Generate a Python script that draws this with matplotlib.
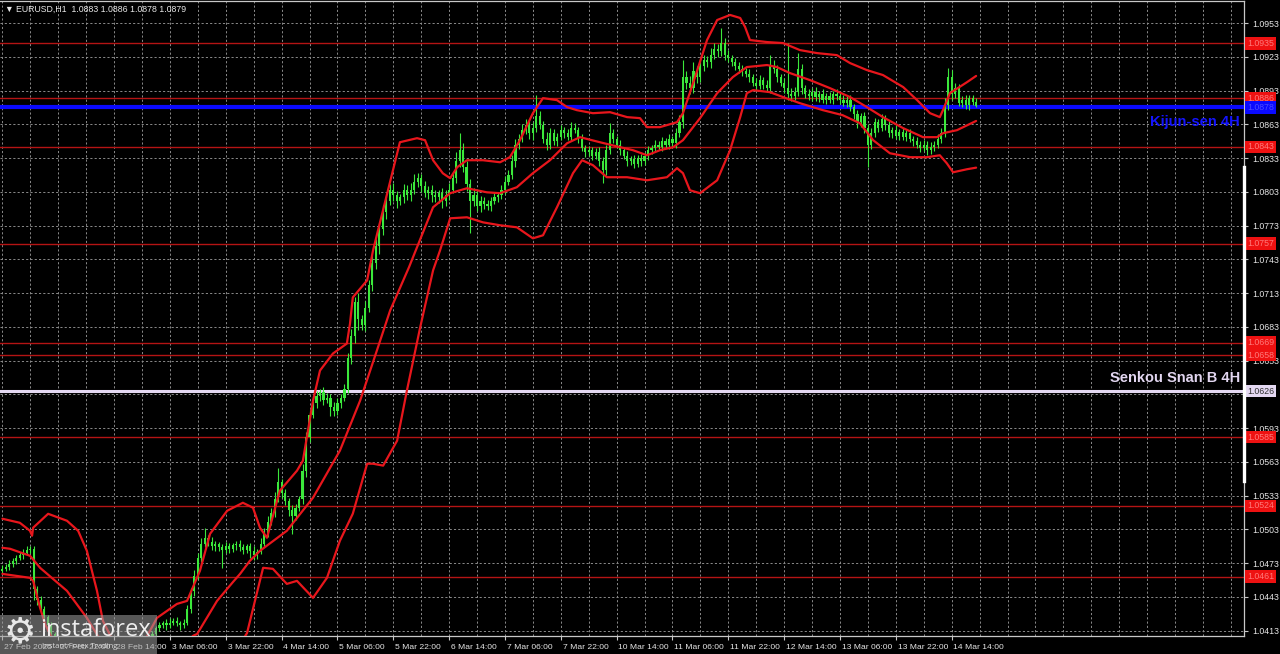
import matplotlib
matplotlib.use("Agg")
import matplotlib.pyplot as plt
import matplotlib.transforms as mtransforms
from matplotlib.patches import Rectangle

# ------------------------------------------------------------------ data
title_text = "\u25BC EURUSD,H1  1.0883 1.0886 1.0878 1.0879"

first_open = 466  # pips above 1.0000
close_pips = [
    468, 470, 472, 475, 478, 480, 482, 485, 486, 450, 440, 432, 425, 418, 410, 405, 400, 402, 400, 398,
    395, 393, 395, 398, 400, 402, 405, 403, 400, 395, 390, 385, 380, 375, 370, 368, 365, 370, 372, 375,
    378, 376, 405, 410, 415, 418, 420, 418, 420, 422, 420, 418, 420, 432, 448, 462, 478, 490, 495, 492,
    488, 490, 487, 485, 488, 486, 489, 490, 487, 485, 488, 484, 480, 483, 490, 500, 510, 518, 530, 545,
    535, 528, 520, 515, 522, 530, 555, 585, 605, 615, 622, 625, 618, 620, 612, 608, 615, 620, 628, 655,
    675, 705, 690, 685, 700, 720, 740, 755, 770, 785, 795, 805, 800, 795, 798, 805, 800, 805, 812, 815,
    808, 802, 805, 800, 798, 802, 795, 800, 805, 815, 830, 840, 825, 810, 795, 800, 790, 795, 792, 790,
    795, 798, 800, 805, 812, 818, 830, 845, 850, 858, 862, 855, 860, 870, 862, 850, 845, 855, 848, 852,
    858, 855, 852, 860, 858, 850, 842, 838, 840, 835, 838, 830, 822, 840, 855, 850, 845, 840, 835, 830,
    832, 828, 833, 830, 835, 840, 842, 845, 843, 848, 845, 850, 846, 855, 865, 905, 900, 895, 910, 905,
    915, 920, 918, 925, 930, 928, 935, 925, 922, 918, 915, 912, 910, 908, 905, 900, 897, 902, 898, 895,
    915, 912, 905, 900, 895, 890, 888, 892, 912, 895, 890, 888, 892, 887, 890, 885, 888, 885, 890, 888,
    885, 882, 885, 878, 872, 865, 870, 860, 845, 855, 865, 860, 868, 862, 855, 858, 853, 856, 852, 855,
    850, 848, 845, 842, 845, 840, 843, 845, 850, 855, 880, 905, 890, 895, 882, 885, 880, 886, 883, 879,
]
upper_wick = [
    3, 2, 4, 3, 2, 3, 4, 3, 2, 2, 3, 4, 3, 2, 3, 2, 3, 2, 3, 2,
    2, 3, 2, 3, 2, 3, 2, 3, 2, 3, 2, 3, 2, 3, 2, 3, 2, 3, 2, 3,
    2, 3, 4, 3, 2, 3, 2, 3, 4, 2, 3, 2, 3, 4, 3, 5, 4, 5, 9, 3,
    4, 3, 2, 3, 4, 3, 2, 3, 4, 3, 2, 3, 4, 3, 5, 4, 5, 4, 6, 13,
    3, 4, 3, 5, 4, 3, 6, 5, 4, 5, 4, 3, 5, 4, 3, 4, 5, 3, 4, 5,
    6, 5, 8, 4, 6, 5, 7, 6, 5, 6, 4, 5, 6, 4, 3, 5, 4, 6, 7, 5,
    4, 5, 3, 4, 5, 3, 4, 5, 6, 5, 8, 15, 6, 5, 4, 6, 5, 4, 3, 4,
    3, 4, 3, 4, 5, 4, 6, 5, 4, 5, 6, 4, 5, 19, 5, 4, 6, 5, 4, 3,
    4, 3, 4, 5, 4, 3, 4, 3, 4, 3, 4, 5, 4, 5, 9, 4, 3, 4, 3, 4,
    3, 4, 3, 4, 3, 4, 3, 4, 3, 4, 3, 4, 3, 5, 6, 15, 5, 6, 8, 5,
    6, 5, 4, 6, 5, 4, 14, 5, 4, 3, 4, 3, 4, 3, 4, 3, 4, 5, 3, 4,
    10, 5, 4, 3, 4, 40, 5, 4, 14, 5, 3, 4, 3, 4, 3, 4, 3, 4, 3, 4,
    3, 4, 3, 4, 3, 4, 3, 4, 3, 5, 4, 3, 4, 3, 4, 3, 4, 3, 4, 3,
    4, 3, 4, 3, 4, 3, 4, 3, 4, 5, 6, 8, 6, 5, 4, 3, 4, 3, 3, 3,
]
lower_wick = [
    3, 2, 3, 2, 3, 2, 3, 2, 3, 10, 4, 3, 4, 3, 2, 3, 4, 3, 2, 3,
    3, 2, 3, 2, 3, 2, 3, 2, 3, 2, 3, 2, 3, 2, 3, 2, 3, 2, 3, 2,
    3, 2, 3, 4, 3, 2, 3, 4, 3, 2, 3, 4, 3, 2, 3, 4, 3, 4, 3, 4,
    3, 4, 3, 16, 3, 4, 3, 4, 3, 4, 3, 6, 4, 3, 2, 3, 4, 3, 4, 3,
    4, 3, 5, 16, 4, 3, 4, 5, 4, 3, 4, 5, 4, 3, 8, 4, 3, 4, 3, 4,
    5, 6, 10, 5, 6, 4, 5, 6, 7, 5, 6, 4, 5, 6, 4, 5, 4, 5, 4, 5,
    5, 4, 5, 6, 4, 5, 6, 5, 4, 3, 4, 5, 4, 6, 29, 5, 4, 5, 4, 3,
    4, 3, 4, 3, 4, 3, 4, 5, 4, 3, 4, 5, 6, 4, 3, 4, 5, 4, 3, 4,
    3, 4, 3, 4, 3, 4, 3, 4, 3, 4, 3, 4, 11, 4, 3, 4, 3, 4, 3, 4,
    3, 4, 3, 4, 3, 4, 3, 4, 3, 4, 3, 4, 3, 4, 3, 5, 6, 5, 4, 5,
    4, 5, 4, 5, 4, 5, 4, 5, 4, 3, 4, 3, 4, 3, 4, 3, 4, 3, 4, 3,
    4, 3, 4, 3, 4, 5, 4, 3, 4, 5, 4, 3, 4, 3, 4, 3, 4, 3, 4, 3,
    4, 3, 4, 3, 4, 5, 4, 5, 20, 4, 3, 4, 3, 4, 3, 4, 3, 4, 3, 4,
    3, 4, 3, 4, 3, 4, 3, 4, 3, 4, 3, 4, 5, 4, 3, 4, 3, 4, 3, 1,
]

# Bollinger-type band readings (bar index, price)
band_upper_i = [0, 5.0, 7.9, 8.5, 8.8, 13.1, 18.5, 21.7, 24.2, 27.1, 28.8, 32, 36, 40, 44.3, 50.0, 52.9,
                56.6, 59.5, 64.4, 68.9, 71.8, 73.8, 75.8, 79.5, 84.4, 86.1, 89.0, 91.0, 94.7, 98.7, 99.6,
                100.4, 104.5, 106.2, 113.9, 118.8, 121.1, 123.4, 126.2, 128.3, 130.3, 133.1, 137.7, 142.6,
                145.4, 148.3, 152.0, 154.9, 158.9, 161.8, 164.6, 169.2, 174.1, 179.0, 182.7, 184.7, 188.4,
                193.3, 195.0, 197.9, 201.9, 204.8, 208.5, 211.4, 212.8, 214.2, 219.1, 223.7, 228.5, 233.4,
                239.1, 242.9, 247.7, 252.3, 258.1, 262.1, 265.8, 268.6, 269.5, 271.5, 276.4, 279]
band_upper_p = [1.05125, 1.05089, 1.05018, 1.04974, 1.05045, 1.05169, 1.05107, 1.05018, 1.04840, 1.04484,
                1.04217, 1.04020, 1.03950, 1.04000, 1.04244, 1.04368, 1.04395, 1.04662, 1.04991, 1.05196,
                1.05267, 1.05223, 1.05045, 1.04956, 1.05374, 1.05552, 1.05641, 1.06175, 1.06442, 1.06593,
                1.06682, 1.06860, 1.07092, 1.07243, 1.07510, 1.08471, 1.08507, 1.08489, 1.08311, 1.08195,
                1.08151, 1.08249, 1.08311, 1.08311, 1.08293, 1.08338, 1.08489, 1.08729, 1.08863, 1.08845,
                1.08783, 1.08756, 1.08729, 1.08738, 1.08694, 1.08685, 1.08605, 1.08605, 1.08649, 1.08729,
                1.08996, 1.09379, 1.09557, 1.09602, 1.09575, 1.09495, 1.09379, 1.09361, 1.09352, 1.09290,
                1.09263, 1.09245, 1.09174, 1.09112, 1.09068, 1.08961, 1.08845, 1.08729, 1.08694, 1.08756,
                1.08907, 1.09005, 1.09060]

band_mid_i = [0, 2.2, 7.9, 10.8, 18.5, 24.2, 28, 35, 45, 50, 54.6, 55.8, 61.5, 66.1, 68.1, 70.9, 73.8,
              81.5, 89.0, 96.7, 102.5, 107.3, 111.1, 116.5, 123.4, 128.3, 133.1, 138.8, 142.6, 147.4,
              152.0, 156.9, 161.8, 165.5, 171.2, 177.0, 180.7, 184.7, 188.4, 192.2, 195.0, 199.9, 204.8,
              209.3, 213.3, 219.1, 221.9, 225.7, 231.4, 237.1, 242.9, 247.7, 252.3, 258.1, 263.8, 267.8,
              269.5, 273.5, 279]
band_mid_p = [1.04867, 1.04858, 1.04796, 1.04689, 1.04484, 1.04244, 1.04050, 1.03900, 1.03850, 1.03920,
              1.04084, 1.04101, 1.04395, 1.04564, 1.04635, 1.04751, 1.04840, 1.05018, 1.05312, 1.05730,
              1.06175, 1.06620, 1.06976, 1.07360, 1.07893, 1.08018, 1.08062, 1.08026, 1.08018, 1.08071,
              1.08196, 1.08311, 1.08462, 1.08516, 1.08471, 1.08427, 1.08400, 1.08355, 1.08400, 1.08427,
              1.08489, 1.08685, 1.08907, 1.09050, 1.09139, 1.09157, 1.09139, 1.09085, 1.09023, 1.08952,
              1.08872, 1.08783, 1.08694, 1.08596, 1.08516, 1.08516, 1.08551, 1.08578, 1.08660]

band_low_i = [0, 7.9, 8.8, 10.8, 12.2, 16, 25, 40, 55, 63, 70.1, 74.7, 77.5, 81.5, 84.4, 89.0, 93.0,
              96.7, 100.4, 104.5, 106.2, 109.1, 113.1, 115.9, 119.7, 123.4, 125.4, 128.3, 133.1, 137.7,
              142.6, 147.4, 152.0, 154.9, 158.9, 163.5, 166.1, 169.2, 173.2, 179.0, 184.7, 190.4, 193.3,
              195.0, 197.0, 199.9, 204.8, 208.5, 211.4, 213.3, 215.1, 219.9, 223.7, 228.5, 235.1, 240.7,
              245.7, 249.5, 254.3, 260.1, 264.9, 268.6, 270.6, 272.4, 276.4, 279]
band_low_p = [1.04635, 1.04600, 1.04573, 1.04333, 1.04191, 1.03950, 1.03550, 1.03450, 1.03500, 1.03750,
              1.04110, 1.04689, 1.04680, 1.04546, 1.04573, 1.04422, 1.04600, 1.04929, 1.05170, 1.05614,
              1.05614, 1.05597, 1.05819, 1.06264, 1.06825, 1.07332, 1.07510, 1.07795, 1.07804, 1.07759,
              1.07733, 1.07715, 1.07617, 1.07644, 1.07893, 1.08196, 1.08311, 1.08267, 1.08160, 1.08160,
              1.08133, 1.08160, 1.08240, 1.08196, 1.08044, 1.08018, 1.08133, 1.08400, 1.08694, 1.08907,
              1.08934, 1.08916, 1.08872, 1.08818, 1.08756, 1.08712, 1.08640, 1.08489, 1.08373, 1.08338,
              1.08338, 1.08355, 1.08284, 1.08204, 1.08231, 1.08245]

red_levels = [1.0935, 1.0886, 1.0843, 1.0757, 1.0669, 1.0658, 1.0585, 1.0524, 1.0461]
kijun_level = 1.0878
kijun_text = "Kijun-sen 4H"
senkou_level = 1.0626
senkou_text = "Senkou Snan B 4H"

price_ticks = [1.0413, 1.0443, 1.0473, 1.0503, 1.0533, 1.0563, 1.0593, 1.0623, 1.0653, 1.0683,
               1.0713, 1.0743, 1.0773, 1.0803, 1.0833, 1.0863, 1.0893, 1.0923, 1.0953]
time_tick_idx = [0, 16, 32, 48, 64, 80, 96, 112, 128, 144, 160, 176, 192, 208, 224, 240, 256, 272]
time_tick_labels = ["27 Feb 2025", "27 Feb 22:00", "28 Feb 14:00", "3 Mar 06:00", "3 Mar 22:00",
                    "4 Mar 14:00", "5 Mar 06:00", "5 Mar 22:00", "6 Mar 14:00", "7 Mar 06:00",
                    "7 Mar 22:00", "10 Mar 14:00", "11 Mar 06:00", "11 Mar 22:00", "12 Mar 14:00",
                    "13 Mar 06:00", "13 Mar 22:00", "14 Mar 14:00"]

# ------------------------------------------------------------------ figure
W, H = 1280, 654
fig = plt.figure(figsize=(W / 100, H / 100), dpi=100, facecolor="black")
ax_left, ax_right, ax_top, ax_bottom = 0, 1244, 1, 636
ax = fig.add_axes([ax_left / W, (H - ax_bottom) / H, (ax_right - ax_left) / W, (ax_bottom - ax_top) / H])
ax.set_facecolor("black")
ax.set_xlim(-0.69, 355.76)
ax.set_ylim(1.04083, 1.09726)

small_font = ["Liberation Sans", "DejaVu Sans"]
grid_col = "#8a8a8a"

# grid
for gx in range(0, 356, 8):
    ax.axvline(gx, color=grid_col, lw=0.7, ls=(0, (2.2, 2.2)), zorder=1)
for gy in price_ticks:
    ax.axhline(gy, color=grid_col, lw=0.7, ls=(0, (2.2, 2.2)), zorder=1)

# horizontal levels
for lv in red_levels:
    ax.axhline(lv, color="#b41414", lw=1.0, zorder=2)
ax.axhline(senkou_level, color="#e4d8f2", lw=2.2, zorder=3)
ax.axhline(kijun_level, color="#0a0aff", lw=3.0, zorder=3)

# candles
n = len(close_pips)
opens, highs, lows, closes = [], [], [], []
prev = first_open
for k in range(n):
    o = prev
    c = close_pips[k]
    h = max(o, c) + upper_wick[k]
    l = min(o, c) - lower_wick[k]
    opens.append(1 + o / 10000)
    closes.append(1 + c / 10000)
    highs.append(1 + h / 10000)
    lows.append(1 + l / 10000)
    prev = c
idx = list(range(n))
candle_col = "#3be83b"
ax.vlines(idx, lows, highs, color=candle_col, lw=0.8, zorder=4)
bottoms = [min(o, c) for o, c in zip(opens, closes)]
heights = [max(abs(c - o), 0.00006) for o, c in zip(opens, closes)]
ax.bar(idx, heights, bottom=bottoms, width=0.62, color=candle_col, edgecolor="none", zorder=5)

# bands
band_col = "#e8161c"
ax.plot(band_upper_i, band_upper_p, color=band_col, lw=1.6, zorder=6, solid_capstyle="round")
ax.plot(band_mid_i, band_mid_p, color=band_col, lw=1.6, zorder=6, solid_capstyle="round")
ax.plot(band_low_i, band_low_p, color=band_col, lw=1.6, zorder=6, solid_capstyle="round")

# level text labels inside chart
ytrans = mtransforms.blended_transform_factory(ax.transAxes, ax.transData)
ax.text(1240 / 1244, kijun_level - 0.0013, kijun_text, transform=ytrans,
        ha="right", va="center", fontsize=10.5, fontweight="bold", color="#1414ff", family=small_font, zorder=8)
ax.text(1240 / 1244, senkou_level + 0.00115, senkou_text, transform=ytrans,
        ha="right", va="center", fontsize=10.5, fontweight="bold", color="#e2d6f0", family=small_font, zorder=8)

# axes styling
for sp in ax.spines.values():
    sp.set_color("#c8c8c8")
    sp.set_linewidth(0.9)
ax.spines["left"].set_visible(False)
ax.yaxis.tick_right()
ax.set_yticks(price_ticks)
# the 1.0623 label sits under the Senkou Span B price box in the reference
ax.set_yticklabels(["" if abs(p - senkou_level) < 0.0005 else f"{p:.4f}" for p in price_ticks], family=small_font)
ax.tick_params(axis="y", colors="#c8c8c8", labelcolor="#e6e6e6", labelsize=6.3, length=3, pad=3, width=0.8)
ax.set_xticks(time_tick_idx)
ax.set_xticklabels([])
ax.tick_params(axis="x", colors="#c8c8c8", length=3, width=0.8)
xtrans = mtransforms.blended_transform_factory(ax.transData, ax.transAxes)
for ti, tl in zip(time_tick_idx, time_tick_labels):
    ax.text(ti + 0.5, -0.0125, tl, transform=xtrans, ha="left", va="top", fontsize=6.1,
            color="#e6e6e6", family=small_font, clip_on=False)

# right-axis price boxes
for lv in red_levels:
    ax.text(1.0 + 3 / 1244, lv, f"{lv:.4f}", transform=ytrans, ha="left", va="center", fontsize=6.3,
            color="#ff7a7a", family=small_font, clip_on=False, zorder=20,
            bbox=dict(boxstyle="square,pad=0.2", fc="#ee1111", ec="none"))
ax.text(1.0 + 3 / 1244, kijun_level, f"{kijun_level:.4f}", transform=ytrans, ha="left", va="center", fontsize=6.3,
        color="#4a4aff", family=small_font, clip_on=False, zorder=20,
        bbox=dict(boxstyle="square,pad=0.2", fc="#0a0aff", ec="none"))
ax.text(1.0 + 3 / 1244, senkou_level, f"{senkou_level:.4f}", transform=ytrans, ha="left", va="center", fontsize=6.3,
        color="#303030", family=small_font, clip_on=False, zorder=20,
        bbox=dict(boxstyle="square,pad=0.2", fc="#e4d8f2", ec="none"))

# bright segment on the right border
ax.plot([1.0, 1.0], [1.0825, 1.0546], transform=ytrans, color="white", lw=2.4, clip_on=False, zorder=21)

# title
ax.text(5 / 1244, 1 - 8 / 635, title_text, transform=ax.transAxes, ha="left", va="center", fontsize=6.3,
        color="#e8e8e8", family=small_font, zorder=20)

# logo
fig.patches.append(Rectangle((0, 0), 157 / W, 39 / H, transform=fig.transFigure, facecolor="#a0a0a0",
                             alpha=0.55, edgecolor="none", zorder=30))
fig.text(20 / W, (H - 632) / H, "\u2699", fontsize=26, color="#e8e8e8", ha="center", va="center",
         family="DejaVu Sans", zorder=31)
fig.text(40 / W, (H - 630) / H, "instaforex", fontsize=17, color="#eeeeee", ha="left", va="center",
         family=["Open Sans", "DejaVu Sans"], zorder=31)
fig.text(42 / W, (H - 646) / H, "Instant Forex Trading", fontsize=5.5, color="#dddddd", ha="left", va="center",
         family=["Open Sans", "DejaVu Sans"], zorder=31)

fig.savefig("out.png", dpi=100, facecolor="black")
